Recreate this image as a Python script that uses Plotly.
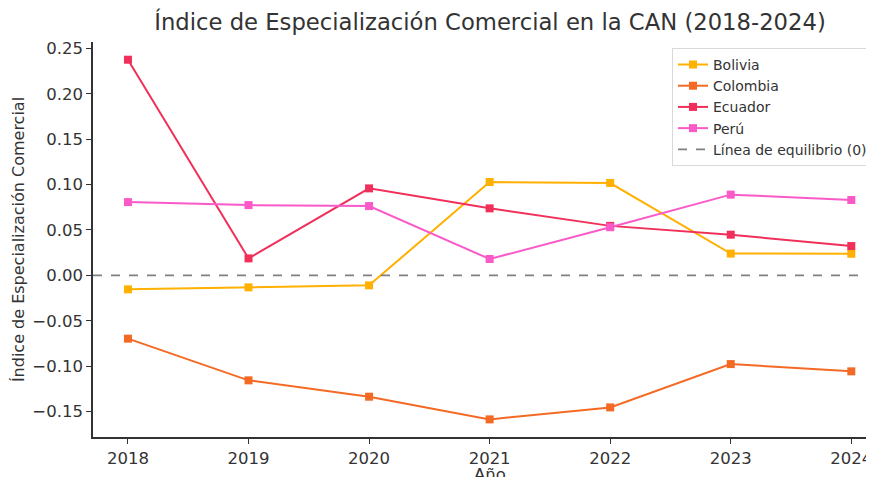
import plotly.graph_objects as go

years = [2018, 2019, 2020, 2021, 2022, 2023, 2024]
bolivia = [-0.0154, -0.0132, -0.0110, 0.1028, 0.1017, 0.0240, 0.0238]
colombia = [-0.0697, -0.1156, -0.1336, -0.1586, -0.1454, -0.0977, -0.1057]
ecuador = [0.2375, 0.0187, 0.0958, 0.0738, 0.0545, 0.0448, 0.0323]
peru = [0.0807, 0.0774, 0.0763, 0.0180, 0.0530, 0.0889, 0.0830]

series = [
    ("Bolivia", bolivia, "#FFB000"),
    ("Colombia", colombia, "#F46A25"),
    ("Ecuador", ecuador, "#F0305A"),
    ("Perú", peru, "#FA5AC8"),
]

font = "DejaVu Sans"
fig = go.Figure()
for name, vals, col in series:
    fig.add_trace(go.Scatter(
        x=years, y=vals, name=name, mode="lines+markers",
        line=dict(color=col, width=2),
        marker=dict(symbol="square", size=8, color=col),
    ))

fig.add_trace(go.Scatter(
    x=[2017.71, 2024.18], y=[0, 0], name="Línea de equilibrio (0)", mode="lines",
    line=dict(color="#808080", width=1.8, dash="dash"),
))

# page body has an 8px default margin; the figure is sized to fill the rest
fig.update_layout(
    width=866, height=469,
    margin=dict(l=85, r=1, t=34, b=40),
    paper_bgcolor="white", plot_bgcolor="white",
    font=dict(family=font, color="#333333"),
    title=dict(text="Índice de Especialización Comercial en la CAN (2018-2024)",
               x=0.5566, xanchor="center", y=0.970, yanchor="middle",
               font=dict(size=22.7, color="#333333")),
    legend=dict(x=1.0, xanchor="right", y=0.985, yanchor="top",
                bordercolor="#D9D9D9", borderwidth=1, bgcolor="white",
                font=dict(size=14, color="#333333")),
    showlegend=True,
    annotations=[dict(text="Año", x=2021, xref="x", y=-0.0937, yref="paper",
                      xanchor="center", yanchor="middle", showarrow=False,
                      font=dict(size=16.5, color="#333333"))],
)
fig.update_xaxes(
    range=[2017.71, 2024.18], tickvals=years, ticktext=[str(y) for y in years],
    automargin=False,
    showgrid=False, zeroline=False, showline=True, linecolor="#333333", linewidth=1.5,
    ticks="outside", ticklen=5, tickcolor="#333333", tickfont=dict(size=16.5, color="#333333"),
)
fig.update_yaxes(
    range=[-0.178, 0.257], tickvals=[-0.15, -0.10, -0.05, 0.0, 0.05, 0.10, 0.15, 0.20, 0.25],
    tickformat=".2f", automargin=False,
    showgrid=False, zeroline=False, showline=True, linecolor="#333333", linewidth=1.5,
    ticks="outside", ticklen=5, tickcolor="#333333", tickfont=dict(size=16.5, color="#333333"),
    title=dict(text="Índice de Especialización Comercial", font=dict(size=16, color="#333333"), standoff=4),
)

fig.write_html("out.html")
